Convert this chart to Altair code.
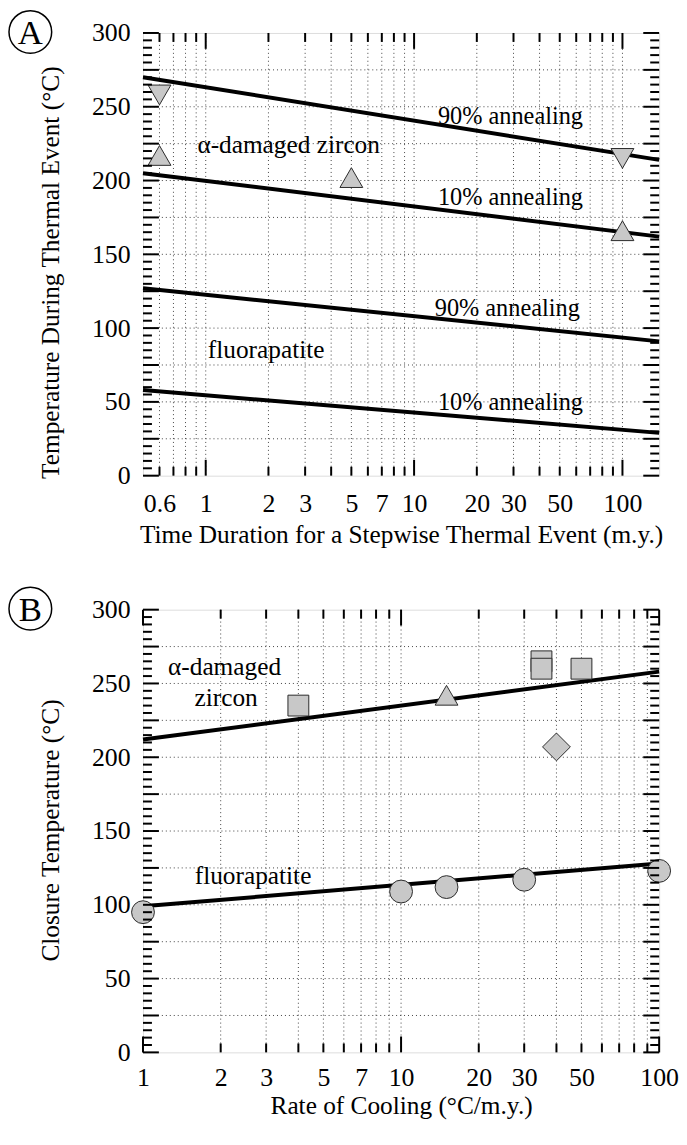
import altair as alt
import pandas as pd

FONT = "Liberation Serif"
FS = 26
FS_T = 25.5
W, H = 520, 446

# ---------------- Panel A data ----------------
a_line_x = [0.5, 150]
a_zr90 = [270, 214]
a_zr10 = [205, 162]
a_ap90 = [127, 91]
a_ap10 = [58, 29]

a_pt_x = [0.6, 0.6, 5, 100, 100]
a_pt_y = [258, 217, 202, 215, 166]
a_pt_shape = ["triangle-down", "triangle-up", "triangle-up", "triangle-down", "triangle-up"]

a_lbl_text = ["α-damaged zircon", "90% annealing", "10% annealing",
              "90% annealing", "10% annealing", "fluorapatite"]
a_lbl_x = [2.5, 29, 29, 28, 29, 1.95]
a_lbl_y = [224, 243, 188, 113, 49, 85]
a_lbl_fs = [25.5, 24.5, 24.5, 24.5, 24.5, 25.5]

a_xlabels = [0.6, 1, 2, 3, 5, 7, 10, 20, 30, 50, 100]
a_xmajor = [1, 10, 100]
a_xminor = [0.6, 0.7, 0.8, 0.9, 2, 3, 4, 5, 6, 7, 8, 9,
            20, 30, 40, 50, 60, 70, 80, 90]
a_grid = [0.6, 0.7, 0.8, 0.9, 1, 2, 3, 4, 5, 6, 7, 8, 9, 10,
          20, 30, 40, 50, 60, 70, 80, 90, 100]

# ---------------- Panel B data ----------------
b_line_x = [1, 100]
b_zr = [212, 258]
b_ap = [99, 128]

b_circ_x = [1, 10, 15, 30, 100]
b_circ_y = [95, 109, 112, 117, 123]
b_sq_x = [4, 35, 35, 50]
b_sq_y = [235, 265, 260, 260]
b_tri_x = [15]
b_tri_y = [242]
b_dia_x = [40]
b_dia_y = [207]

b_lbl_text = ["α-damaged", "zircon", "fluorapatite"]
b_lbl_x = [2.07, 2.1, 2.67]
b_lbl_y = [261, 240, 119.5]
b_lbl_fs = [25.5, 25.5, 25.5]

b_xlabels = [1, 2, 3, 5, 7, 10, 20, 30, 50, 100]
b_xmajor = [1, 10, 100]
b_xminor = [2, 3, 4, 5, 6, 7, 8, 9, 20, 30, 40, 50, 60, 70, 80, 90]
b_grid = [2, 3, 4, 5, 6, 7, 8, 9, 10, 20, 30, 40, 50, 60, 70, 80, 90]

# ---------------- shared y ----------------
y_labels = [0, 50, 100, 150, 200, 250, 300]
y_major = [0, 25, 50, 75, 100, 125, 150, 175, 200, 225, 250, 275, 300]
y_minor = [v for v in range(0, 301, 5) if v % 25 != 0]
y_grid = [25, 50, 75, 100, 125, 150, 175, 200, 225, 250, 275]

FILL = "#c8c8c8"
EDGE = "#2a2a2a"


def panel(letter, xdom, xgrid, xmajor, xminor, xlabels, xtitle, ytitle,
          lines, points, texts, x_label_pad, x_title_pad, y_title_y):
    xs = alt.Scale(type="log", domain=xdom, nice=False)
    ys = alt.Scale(domain=[0, 300], nice=False, zero=False)

    xaxis = alt.Axis(values=xlabels, format="~g", title=xtitle, grid=False,
                     ticks=False, domain=False, labelFont=FONT, labelFontSize=FS,
                     labelColor="black", labelPadding=x_label_pad, labelFlush=False,
                     labelOverlap=False, titleFont=FONT, titleFontSize=FS_T,
                     titleFontWeight="normal", titleColor="black",
                     titlePadding=x_title_pad)
    yaxis = alt.Axis(values=y_labels, title=ytitle, grid=False, ticks=False,
                     domain=False, labelFont=FONT, labelFontSize=FS,
                     labelColor="black", labelPadding=13, labelFlush=False,
                     labelOverlap=False, titleFont=FONT, titleFontSize=FS_T,
                     titleFontWeight="normal", titleColor="black",
                     titlePadding=28, titleY=y_title_y)

    def X(f):
        return alt.X(f, scale=xs, axis=xaxis, title=xtitle)

    def Y(f):
        return alt.Y(f, scale=ys, axis=yaxis, title=ytitle)

    gx = alt.Chart(pd.DataFrame({"v": xgrid})).mark_rule(
        strokeDash=[1, 3], strokeWidth=1, color="#444").encode(x=X("v:Q"))
    gy = alt.Chart(pd.DataFrame({"v": y_grid})).mark_rule(
        strokeDash=[1, 3], strokeWidth=1, color="#444").encode(y=Y("v:Q"))

    ln = alt.Chart(lines).mark_line(color="black", strokeWidth=4).encode(
        x=X("x:Q"), y=Y("y:Q"), detail="id:N")

    pts = alt.Chart(points).mark_point(filled=True, fill=FILL, stroke=EDGE,
                                       strokeWidth=1, opacity=1).encode(
        x=X("x:Q"), y=Y("y:Q"),
        shape=alt.Shape("shape:N", scale=None),
        size=alt.Size("size:Q", scale=None))

    txt = alt.Chart(texts).mark_text(font=FONT, color="black",
                                     align="center", baseline="middle").encode(
        x=X("x:Q"), y=Y("y:Q"), text="t:N",
        size=alt.Size("fs:Q", scale=None))

    tick_layers = []
    for vals, ln_px in ((xminor, 9), (xmajor, 16)):
        d = pd.DataFrame({"v": vals})
        tick_layers.append(alt.Chart(d).mark_rule(color="black", strokeWidth=2).encode(
            x=X("v:Q"), y=alt.value(H), y2=alt.value(H - ln_px)))
        tick_layers.append(alt.Chart(d).mark_rule(color="black", strokeWidth=2).encode(
            x=X("v:Q"), y=alt.value(0), y2=alt.value(ln_px)))
    for vals, ln_px in ((y_minor, 9), (y_major, 16)):
        d = pd.DataFrame({"v": vals})
        tick_layers.append(alt.Chart(d).mark_rule(color="black", strokeWidth=2).encode(
            y=Y("v:Q"), x=alt.value(0), x2=alt.value(ln_px)))
        tick_layers.append(alt.Chart(d).mark_rule(color="black", strokeWidth=2).encode(
            y=Y("v:Q"), x=alt.value(W), x2=alt.value(W - ln_px)))

    ld = pd.DataFrame({"L": [letter]})
    circ = alt.Chart(ld).mark_point(shape="circle", filled=False, size=43 * 43,
                                    stroke="black", strokeWidth=1.5, opacity=1).encode(
        x=alt.value(-113.5), y=alt.value(-1))
    let = alt.Chart(ld).mark_text(font=FONT, fontSize=35, color="black",
                                  align="center", baseline="alphabetic").encode(
        x=alt.value(-113.5), y=alt.value(11.5), text="L:N")

    return alt.layer(gx, gy, ln, pts, txt, *tick_layers, circ, let).properties(
        width=W, height=H)


a_lines = pd.DataFrame({
    "x": a_line_x * 4,
    "y": a_zr90 + a_zr10 + a_ap90 + a_ap10,
    "id": ["zr90"] * 2 + ["zr10"] * 2 + ["ap90"] * 2 + ["ap10"] * 2,
})
a_points = pd.DataFrame({"x": a_pt_x, "y": a_pt_y, "shape": a_pt_shape,
                         "size": [529] * len(a_pt_x)})
a_texts = pd.DataFrame({"x": a_lbl_x, "y": a_lbl_y, "t": a_lbl_text, "fs": a_lbl_fs})

b_lines = pd.DataFrame({
    "x": b_line_x * 2,
    "y": b_zr + b_ap,
    "id": ["zr"] * 2 + ["ap"] * 2,
})
b_points = pd.DataFrame({
    "x": b_circ_x + b_sq_x + b_tri_x + b_dia_x,
    "y": b_circ_y + b_sq_y + b_tri_y + b_dia_y,
    "shape": ["circle"] * len(b_circ_x) + ["square"] * len(b_sq_x)
             + ["triangle-up"] * len(b_tri_x) + ["diamond"] * len(b_dia_x),
    "size": [529] * len(b_circ_x) + [441] * len(b_sq_x)
            + [529] * len(b_tri_x) + [784] * len(b_dia_x),
})
b_texts = pd.DataFrame({"x": b_lbl_x, "y": b_lbl_y, "t": b_lbl_text, "fs": b_lbl_fs})

pA = panel("A", [0.5, 150], a_grid, a_xmajor, a_xminor, a_xlabels,
           "Time Duration for a Stepwise Thermal Event (m.y.)",
           "Temperature During Thermal Event (°C)",
           a_lines, a_points, a_texts, 15, 6, 241)
pB = panel("B", [1, 100], b_grid, b_xmajor, b_xminor, b_xlabels,
           "Rate of Cooling (°C/m.y.)",
           "Closure Temperature (°C)",
           b_lines, b_points, b_texts, 12, 4, 222)

chart = alt.vconcat(pA, pB, spacing=36).properties(
    padding={"left": -3, "top": -5, "right": 0, "bottom": 0}
).configure_view(stroke="black", strokeWidth=2).configure(background="white")

chart.save("out.html", embed_options={"renderer": "svg", "actions": False})
